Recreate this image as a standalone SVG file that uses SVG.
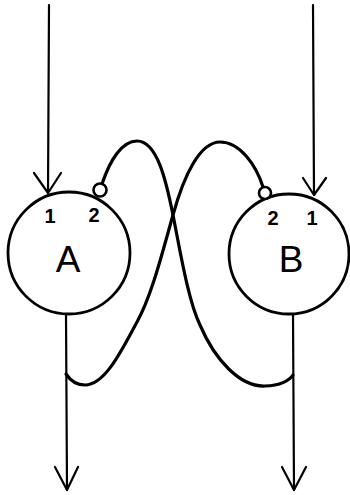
<svg xmlns="http://www.w3.org/2000/svg" width="350" height="495" viewBox="0 0 350 495">
<style>
.node{fill:none;stroke:#000;stroke-width:2.8}
.port{fill:#fff;stroke:#000;stroke-width:2.6}
.wire{fill:none;stroke:#000;stroke-width:2.2;stroke-linecap:round;stroke-linejoin:round}
.loop{fill:none;stroke:#000;stroke-width:3.2;stroke-linecap:round}
.lbl{font-family:"Liberation Sans",Arial,sans-serif;font-size:37px;fill:#000;text-anchor:middle}
.num{font-family:"Liberation Sans",Arial,sans-serif;font-size:20px;font-weight:bold;fill:#000;text-anchor:middle}
</style>
<rect width="350" height="495" fill="#fff"/>
<g id="connectors">
  <path class="wire" d="M49,5 L48,193"/>
  <path class="wire" d="M34,173 L48,193 L61,173"/>
  <path class="wire" d="M313,5 L314,195"/>
  <path class="wire" d="M303,178 L314,195 L326,178"/>
  <path class="wire" d="M66,314 L67,490"/>
  <path class="wire" d="M55,467 L67,490 L78,467"/>
  <path class="wire" d="M293,314 L294,490"/>
  <path class="wire" d="M282,467 L294,490 L306,467"/>
  <path class="loop" d="M102,184 C110,160 122,141 137,141 C157,141 166,180 173,215 C180,250 188,300 200,325 C215,360 240,387 265,386 C280,386 290,380 293,375"/>
  <path class="loop" d="M263,187 C256,165 240,142 220,142 C200,142 184,175 173,215 C163,250 152,295 137,322 C122,350 105,385 85,385 C75,385 70,380 66,374"/>
</g>
<g id="node-A">
  <circle class="node" cx="69" cy="253" r="61"/>
  <circle class="port" cx="100" cy="190" r="6.5"/>
  <text class="num" x="50" y="223">1</text>
  <text class="num" x="94" y="222">2</text>
  <text class="lbl" x="68" y="272">A</text>
</g>
<g id="node-B">
  <circle class="node" cx="289" cy="254" r="60"/>
  <circle class="port" cx="265" cy="193" r="6"/>
  <text class="num" x="273" y="225">2</text>
  <text class="num" x="312" y="225">1</text>
  <text class="lbl" x="291" y="272">B</text>
</g>
</svg>
